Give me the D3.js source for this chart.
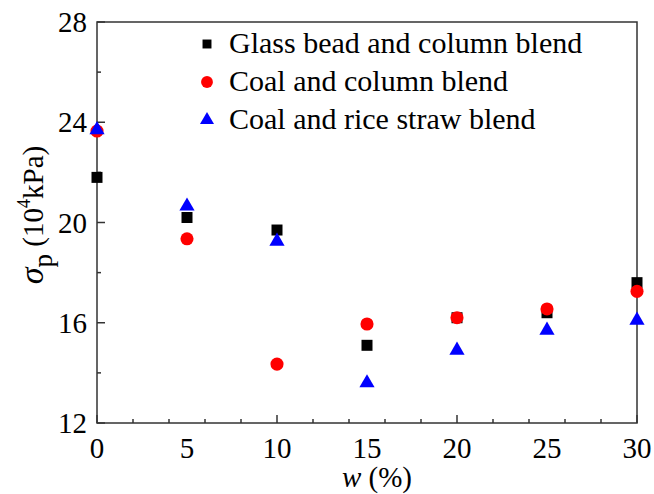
<!DOCTYPE html>
<html>
<head>
<meta charset="utf-8">
<script src="https://cdn.jsdelivr.net/npm/d3@7"></script>
</head>
<body style="margin:0">
<svg id="chart" width="654" height="494"></svg>
<script>
// data
const wValues = [0, 5, 10, 15, 20, 25, 30]
const glassBead = [21.8, 20.2, 19.7, 15.1, 16.2, 16.4, 17.6]
const coalColumn = [23.65, 19.35, 14.35, 15.95, 16.2, 16.55, 17.25]
const coalStraw = [23.7, 20.65, 19.25, 13.6, 14.9, 15.7, 16.1]
const seriesNames = ["Glass bead and column blend", "Coal and column blend", "Coal and rice straw blend"]
const xTicks = [0, 5, 10, 15, 20, 25, 30]
const yTicks = [12, 16, 20, 24, 28]

const serif = "Times New Roman"

const series = [
  { name: seriesNames[0], values: glassBead, shape: d3.symbolSquare, color: "#000000", size: 121, legendSize: 80 },
  { name: seriesNames[1], values: coalColumn, shape: d3.symbolCircle, color: "#ff0000", size: 135, legendSize: 110 },
  { name: seriesNames[2], values: coalStraw, shape: d3.symbolTriangle, color: "#0000ff", size: 100, legendSize: 85 }
]

const svg = d3.select("#chart")
const margin = { left: 97, right: 17, top: 22, bottom: 71 }
const width = 654 - margin.left - margin.right,
      height = 494 - margin.top - margin.bottom

const x = d3.scaleLinear().domain([0, 30]).range([0, width])
const y = d3.scaleLinear().domain([12, 28]).range([height, 0])

// legend
series.forEach((s, i) => {
  svg.append("path")
      .attr("transform", `translate(207,${44 + i * 38})`)
      .attr("d", d3.symbol().type(s.shape).size(s.legendSize))
      .attr("fill", s.color)
})
svg.selectAll(".legend-label")
  .data(series)
  .enter().append("text")
    .attr("class", "legend-label")
    .attr("x", 229).attr("y", (d, i) => 53 + i * 38)
    .attr("font-size", 30)
    .style("font-family", d => `"${serif}"`)
    .text(d => d.name)

const g = svg.append("g").attr("transform", `translate(${margin.left},${margin.top})`)

// frame
g.append("rect")
    .attr("width", width).attr("height", height)
    .attr("fill", "none").attr("stroke", "#333").attr("stroke-width", 1.5)

// ticks drawn inward from the scales
g.append("g").selectAll("line")
  .data(x.ticks(12))
  .enter().append("line")
    .attr("x1", d => x(d)).attr("x2", d => x(d))
    .attr("y1", height).attr("y2", d => height - (d % 5 === 0 ? 8 : 4))
    .attr("stroke", "#333").attr("stroke-width", 1.5)
g.append("g").selectAll("line")
  .data(y.ticks(8))
  .enter().append("line")
    .attr("y1", d => y(d)).attr("y2", d => y(d))
    .attr("x1", 0).attr("x2", d => (d % 4 === 0 ? 8 : 4))
    .attr("stroke", "#333").attr("stroke-width", 1.5)

svg.selectAll(".xlab")
  .data(xTicks)
  .enter().append("text")
    .attr("class", "xlab")
    .attr("x", d => margin.left + x(d)).attr("y", margin.top + height + 35)
    .attr("text-anchor", "middle")
    .attr("font-size", 29)
    .style("font-family", d => `"${serif}"`)
    .text(d => d)
svg.selectAll(".ylab")
  .data(yTicks)
  .enter().append("text")
    .attr("class", "ylab")
    .attr("x", margin.left - 10).attr("y", d => margin.top + y(d) + 10)
    .attr("text-anchor", "end")
    .attr("font-size", 29)
    .style("font-family", d => `"${serif}"`)
    .text(d => d)

// points
series.forEach(s => {
  g.append("g").selectAll("path")
    .data(s.values)
    .enter().append("path")
      .attr("transform", (d, i) => `translate(${x(wValues[i])},${y(d)})`)
      .attr("d", d3.symbol().type(s.shape).size(s.size))
      .attr("fill", s.color)
})

// axis titles
const xTitle = svg.append("text")
    .attr("x", 377).attr("y", 487)
    .attr("text-anchor", "middle")
    .attr("font-size", 29)
    .style("font-family", `"${serif}"`)
xTitle.append("tspan").attr("font-style", "italic").text("w")
xTitle.append("tspan").text(" (%)")

const yTitle = svg.append("text")
    .attr("transform", "translate(43,215) rotate(-90)")
    .attr("text-anchor", "middle")
    .attr("font-size", 29)
    .style("font-family", `"${serif}"`)
yTitle.append("tspan").attr("font-style", "italic").attr("font-size", 34).text("σ")
yTitle.append("tspan").attr("font-size", 27).attr("dy", 9).text("p")
yTitle.append("tspan").attr("dy", -9).text(" (10")
yTitle.append("tspan").attr("font-size", 18).attr("dy", -13).text("4")
yTitle.append("tspan").attr("dy", 13).text("kPa)")
</script>
</body>
</html>
